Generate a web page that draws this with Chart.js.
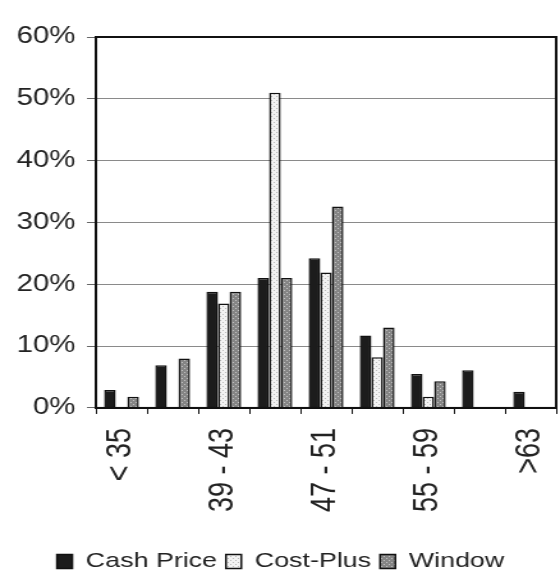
<!DOCTYPE html>
<html>
<head>
<meta charset="utf-8">
<script src="https://cdn.jsdelivr.net/npm/chart.js@4"></script>
<style>
  html, body { margin: 0; padding: 0; background: #fff; overflow: hidden; }
  /* the source scan is stretched sideways, so draw narrow and stretch */
  #wrap { width: 438px; height: 584px; transform: scaleX(1.2785); transform-origin: 0 0; }
</style>
</head>
<body>
<div id="wrap"><canvas id="priceChart"></canvas></div>
<script>
const categories = ["< 35", "35 - 39", "39 - 43", "43 - 47", "47 - 51", "51 - 55", "55 - 59", "59 - 63", ">63"];
const cashPrice = [2.9, 6.9, 18.8, 21.0, 24.2, 11.7, 5.5, 6.1, 2.6];
const costPlus = [0, 0, 16.9, 51.0, 21.9, 8.2, 1.8, 0, 0];
const windowPrice = [1.8, 8.0, 18.8, 21.0, 32.6, 13.0, 4.3, 0, 0];
const yTicks = [0, 10, 20, 30, 40, 50, 60];

function makePattern(bg, dot, step) {
  const c = document.createElement("canvas");
  c.width = step;
  c.height = step;
  const g = c.getContext("2d");
  g.fillStyle = bg;
  g.fillRect(0, 0, step, step);
  g.fillStyle = dot;
  g.fillRect(0, 0, 1, 1);
  g.fillRect(step / 2, step / 2, 1, 1);
  return g.createPattern(c, "repeat");
}

const framePlugin = {
  id: "frame",
  afterDatasetsDraw(chart) {
    const a = chart.chartArea;
    const ctx = chart.ctx;
    ctx.save();
    ctx.strokeStyle = "#111";
    ctx.lineWidth = 2;
    ctx.strokeRect(a.left, a.top, a.right - a.left, a.bottom - a.top);
    ctx.restore();
  },
};

document.addEventListener("DOMContentLoaded", () => {
  Chart.defaults.font.family = "'Liberation Sans', Arial, sans-serif";
  Chart.defaults.color = "#222";

  const ctx = document.getElementById("priceChart").getContext("2d");
  new Chart(ctx, {
    type: "bar",
    data: {
      labels: categories,
      datasets: [
        {
          label: "Cash Price",
          data: cashPrice,
          backgroundColor: "#1c1c1c",
          borderColor: "#111",
          borderWidth: 1.5,
        },
        {
          label: "Cost-Plus",
          data: costPlus,
          backgroundColor: makePattern("#f2f2f2", "#b8b8b8", 4),
          borderColor: "#111",
          borderWidth: 1.5,
        },
        {
          label: "Window",
          data: windowPrice,
          backgroundColor: makePattern("#858585", "#c4c4c4", 4),
          borderColor: "#111",
          borderWidth: 1.5,
        },
      ],
    },
    options: {
      responsive: true,
      maintainAspectRatio: false,
      animation: false,
      datasets: {
        bar: { categoryPercentage: 0.68, barPercentage: 1.0 },
      },
      layout: { padding: { top: 37, left: 4, right: 3, bottom: 2 } },
      plugins: {
        legend: {
          position: "bottom",
          labels: {
            font: { size: 21 },
            color: "#222",
            boxWidth: 12,
            boxHeight: 14,
            padding: 7,
          },
        },
        tooltip: { enabled: false },
      },
      scales: {
        x: {
          afterFit: (axis) => {
            axis.paddingRight = 0;
            axis.height += 18; // space between labels and legend
          },
          grid: {
            drawOnChartArea: false,
            drawTicks: true,
            tickLength: 6,
            color: "#111",
          },
          border: { color: "#111", width: 2 },
          ticks: {
            font: { size: 27 },
            color: "#222",
            minRotation: 90,
            maxRotation: 90,
            autoSkip: false,
            padding: 14,
            callback: (v, i) => (i % 2 === 0 ? categories[i] : ""),
          },
        },
        y: {
          min: yTicks[0],
          max: yTicks[yTicks.length - 1],
          afterBuildTicks: (axis) => {
            axis.ticks = yTicks.map((v) => ({ value: v }));
          },
          grid: {
            color: "#8a8a8a",
            lineWidth: 1,
            tickLength: 7,
            tickColor: "#666",
          },
          border: { color: "#111", width: 2 },
          ticks: {
            font: { size: 23 },
            color: "#222",
            padding: 9,
            callback: (v) => v + "%",
          },
        },
      },
    },
    plugins: [framePlugin],
  });
});
</script>
</body>
</html>
